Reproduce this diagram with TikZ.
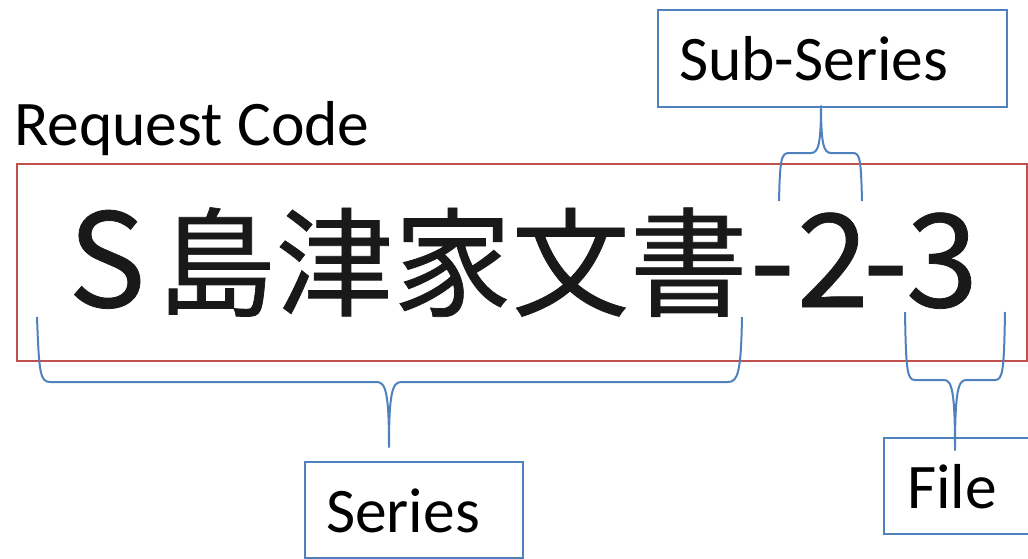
\documentclass[tikz,border=0pt]{standalone}
\usepackage{fontspec}
\setmainfont{Carlito}
\newfontfamily\cjkfont[FakeBold=0.6]{Noto Sans CJK JP}
\usetikzlibrary{positioning}
\definecolor{codered}{RGB}{192, 80, 77}
\definecolor{tagblue}{RGB}{79, 129, 189}
\tikzstyle{textonly} = [draw=none, fill=none, inner sep=0pt, text=black, font=\fontsize{63.5}{74}\selectfont]
\tikzstyle{codetext} = [draw=none, fill=none, inner sep=0pt, text=black!90, font=\cjkfont\fontsize{118}{130}\selectfont]
\tikzstyle{tag} = [rectangle, draw=tagblue, line width=2pt, inner xsep=21pt, inner ysep=0pt, text=black, text height=44pt, text depth=0pt, align=left, anchor=north west, font=\fontsize{63.5}{74}\selectfont]
\tikzstyle{codebox} = [rectangle, draw=codered, line width=2pt]
\tikzstyle{brace} = [draw=tagblue, line width=2pt, line join=round]

\begin{document}
\begin{tikzpicture}[x=1pt, y=-1pt]
\useasboundingbox (0,0) rectangle (1028,558);
%code=========================

\node[textonly, anchor=base west] (title) at (14,145) {Request Code};
\draw[codebox] (17,164) rectangle (1027,361);
\node[codetext, anchor=base west] (code) at (68,307)
  {{\fontsize{130}{140}\selectfont S}\kern12pt 島津家文書\kern2pt{\fontsize{130}{140}\selectfont -\kern2pt2\kern-6pt-\kern-2pt3}};

%tags=========================

\node[tag, minimum width=349pt, minimum height=97pt, text width=307pt] (sub) at (657,9) {Sub-Series};
\node[tag, minimum width=218pt, minimum height=96pt, text width=176pt] (series) at (304,461) {Series};
\node[tag, minimum width=144pt, minimum height=96pt, text width=102pt, inner xsep=23pt] (file) at (883,437) {File};

\coordinate (subtip) at (821,106);
\coordinate (sertip) at (389,447);
\coordinate (filetip) at (955,450);

% braces
\path[brace] (37,317) .. controls (39,372) and (40,382) .. (50,382) -- (377,382)
  .. controls (386,382) and (389,395) .. (sertip)
  .. controls (389,395) and (392,382) .. (401,382) -- (728,382)
  .. controls (738,382) and (741,372) .. (742,317);
\path[brace] (779,201) .. controls (780,160) and (781,153) .. (789,153) -- (811,153)
  .. controls (818,153) and (821,145) .. (subtip)
  .. controls (821,145) and (824,153) .. (831,153) -- (853,153)
  .. controls (860,153) and (861,160) .. (862,201);
\path[brace] (905,312) .. controls (906,370) and (907,380) .. (915,380) -- (944,380)
  .. controls (952,380) and (955,392) .. (filetip)
  .. controls (955,392) and (958,380) .. (966,380) -- (995,380)
  .. controls (1003,380) and (1004,370) .. (1005,312);

\end{tikzpicture}
\end{document}
